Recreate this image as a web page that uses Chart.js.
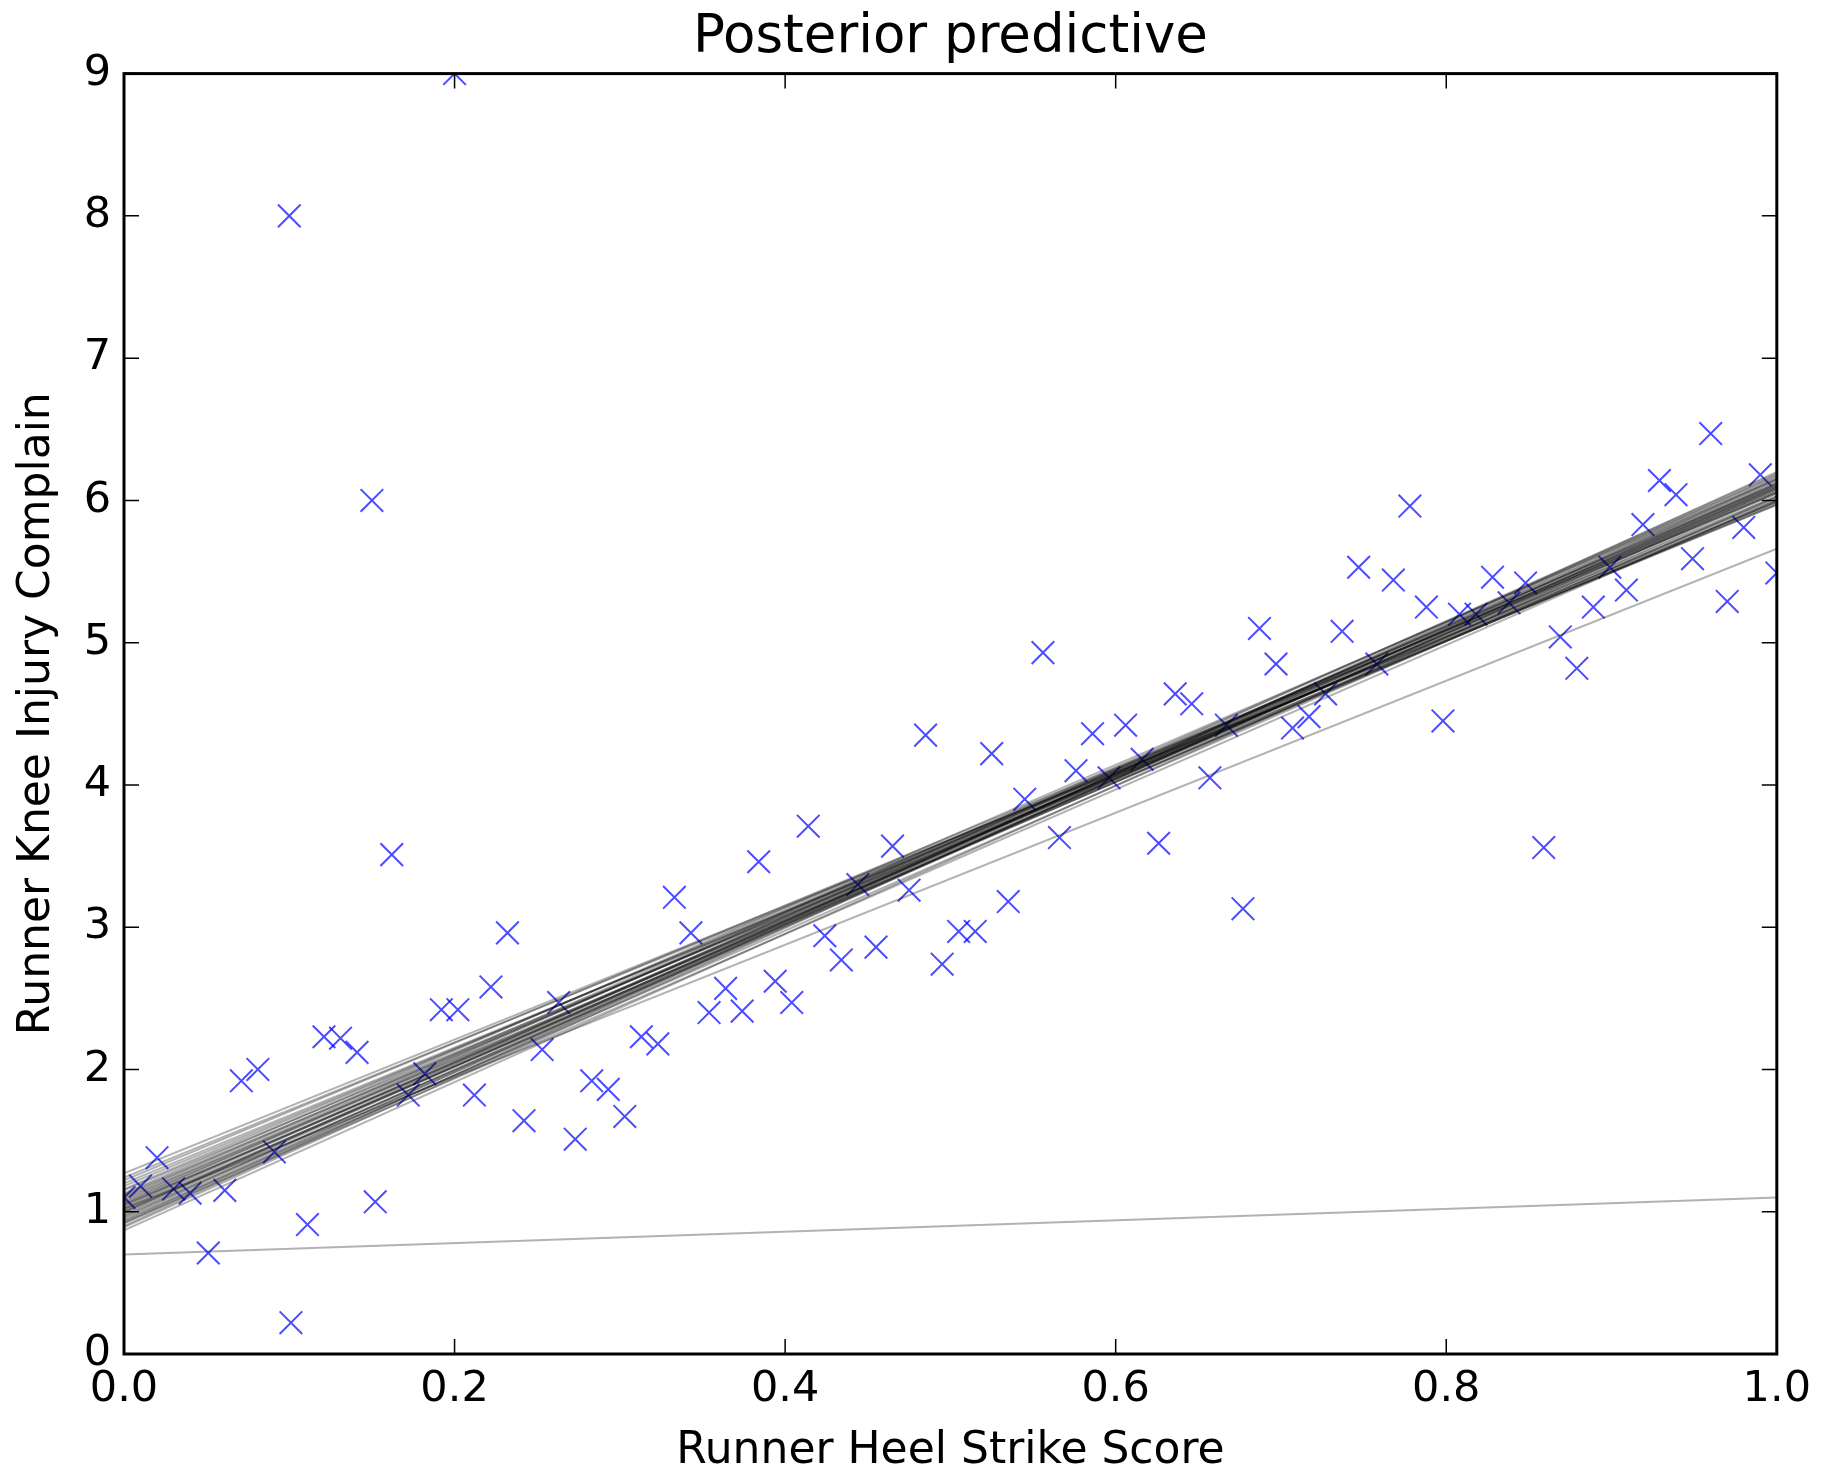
<!DOCTYPE html>
<html>
<head>
<meta charset="utf-8">
<script src="https://cdn.jsdelivr.net/npm/chart.js@4.4.1/dist/chart.umd.min.js"></script>
<style>
  body { margin: 0; background: #fff; }
  #wrap { width: 1821px; height: 1482px; }
</style>
</head>
<body>
<div id="wrap"><canvas id="myChart" width="1821" height="1482"></canvas></div>
<script>
// observed runners
const heelScore = [
    0.000, 0.010, 0.020, 0.030, 0.040, 0.051, 0.061, 0.071, 0.081, 0.091,
    0.101, 0.111, 0.121, 0.131, 0.141, 0.152, 0.162, 0.172, 0.182, 0.192,
    0.202, 0.212, 0.222, 0.232, 0.242, 0.253, 0.263, 0.273, 0.283, 0.293,
    0.303, 0.313, 0.323, 0.333, 0.343, 0.354, 0.364, 0.374, 0.384, 0.394,
    0.404, 0.414, 0.424, 0.434, 0.444, 0.455, 0.465, 0.475, 0.485, 0.495,
    0.505, 0.515, 0.525, 0.535, 0.545, 0.556, 0.566, 0.576, 0.586, 0.596,
    0.606, 0.616, 0.626, 0.636, 0.646, 0.657, 0.667, 0.677, 0.687, 0.697,
    0.707, 0.717, 0.727, 0.737, 0.747, 0.758, 0.768, 0.778, 0.788, 0.798,
    0.808, 0.818, 0.828, 0.838, 0.848, 0.859, 0.869, 0.879, 0.889, 0.899,
    0.909, 0.919, 0.929, 0.939, 0.949, 0.960, 0.970, 0.980, 0.990, 1.000,
    0.100, 0.150, 0.200
];
const kneeComplain = [
    1.10, 1.18, 1.38, 1.16, 1.13, 0.71, 1.15, 1.92, 2.00, 1.42,
    0.22, 0.91, 2.23, 2.22, 2.12, 1.07, 3.51, 1.82, 1.97, 2.42,
    2.42, 1.82, 2.58, 2.96, 1.64, 2.14, 2.47, 1.51, 1.92, 1.86,
    1.67, 2.23, 2.18, 3.21, 2.96, 2.40, 2.57, 2.41, 3.46, 2.62,
    2.47, 3.71, 2.94, 2.77, 3.30, 2.86, 3.57, 3.26, 4.35, 2.74,
    2.97, 2.97, 4.22, 3.18, 3.90, 4.93, 3.63, 4.10, 4.36, 4.05,
    4.42, 4.18, 3.59, 4.64, 4.57, 4.05, 4.42, 3.13, 5.10, 4.85,
    4.40, 4.48, 4.64, 5.08, 5.53, 4.85, 5.44, 5.96, 5.25, 4.45,
    5.20, 5.20, 5.46, 5.28, 5.42, 3.56, 5.04, 4.82, 5.25, 5.53,
    5.37, 5.83, 6.14, 6.04, 5.59, 6.47, 5.29, 5.81, 6.18, 5.49,
    8.00, 6.00, 9.00
];

// posterior sample lines: value at x=0 and at x=1
const lineStart = [
    0.87, 0.89, 0.90, 0.92, 0.93, 0.95, 0.96, 0.98, 0.99, 1.00,
    1.01, 1.02, 1.03, 1.04, 1.05, 1.06, 1.07, 1.08, 1.09, 1.10,
    1.12, 1.13, 1.15, 1.16, 1.18, 1.20, 1.22, 1.24, 1.27, 0.94,
    1.00, 1.05, 0.97, 1.11, 0.92, 1.02, 0.70
];
const lineEnd = [
    6.08, 6.15, 6.20, 6.12, 6.18, 6.10, 6.16, 6.05, 6.13, 6.19,
    6.08, 6.02, 6.14, 6.10, 6.00, 6.17, 6.06, 6.12, 5.99, 6.09,
    6.03, 6.15, 5.98, 6.07, 6.01, 5.97, 6.05, 5.99, 5.97, 6.03,
    6.11, 6.06, 6.09, 6.11, 6.00, 5.66, 1.10
];

const xTicks = [0, 0.2, 0.4, 0.6, 0.8, 1.0];
const yTicks = [0, 1, 2, 3, 4, 5, 6, 7, 8, 9];

const font = 'DejaVu Sans';

const points = heelScore.map((x, i) => ({ x: x, y: kneeComplain[i] }));

const datasets = lineStart.map((a, i) => ({
    data: [{ x: 0, y: a }, { x: 1, y: lineEnd[i] }],
    showLine: true,
    borderColor: 'rgba(0, 0, 0, 0.3)',
    borderWidth: 2,
    pointRadius: 0,
    clip: 0,
    order: 0
}));

datasets.push({
    data: points,
    showLine: false,
    pointStyle: 'crossRot',
    pointRadius: 16,
    pointBorderWidth: 2,
    pointBorderColor: 'rgba(0, 0, 255, 0.7)',
    pointBackgroundColor: 'rgba(0, 0, 0, 0)',
    clip: 0,
    order: 1
});

// matplotlib-like frame with inward ticks on all four sides
const framePlugin = {
    id: 'frame',
    afterDatasetsDraw(chart) {
        const { ctx, chartArea: a, scales } = chart;
        const len = 15;
        ctx.save();
        ctx.strokeStyle = '#000';
        ctx.lineWidth = 1.5;
        ctx.beginPath();
        xTicks.forEach(v => {
            const px = scales.x.getPixelForValue(v);
            ctx.moveTo(px, a.bottom); ctx.lineTo(px, a.bottom - len);
            ctx.moveTo(px, a.top); ctx.lineTo(px, a.top + len);
        });
        yTicks.forEach(v => {
            const py = scales.y.getPixelForValue(v);
            ctx.moveTo(a.left, py); ctx.lineTo(a.left + len, py);
            ctx.moveTo(a.right, py); ctx.lineTo(a.right - len, py);
        });
        ctx.stroke();
        ctx.lineWidth = 3;
        ctx.strokeRect(a.left, a.top, a.right - a.left, a.bottom - a.top);
        ctx.restore();
    }
};

const ctx = document.getElementById('myChart').getContext('2d');
const myChart = new Chart(ctx, {
    type: 'scatter',
    data: { datasets: datasets },
    plugins: [framePlugin],
    options: {
        responsive: false,
        animation: false,
        events: [],
        layout: {
            padding: { left: 0, right: 43, top: 0, bottom: 0 }
        },
        plugins: {
            legend: { display: false },
            tooltip: { enabled: false },
            title: {
                display: true,
                fullSize: false,
                text: 'Posterior predictive',
                color: '#000',
                font: { family: font, size: 53, weight: 'normal' },
                padding: { top: 6, bottom: 4 }
            }
        },
        scales: {
            x: {
                type: 'linear',
                min: 0,
                max: 1,
                afterBuildTicks: scale => { scale.ticks = xTicks.map(v => ({ value: v })); },
                afterFit: scale => { scale.height = 128; },
                grid: { display: false, drawTicks: false },
                border: { display: false },
                ticks: {
                    color: '#000',
                    padding: 10,
                    maxRotation: 0,
                    font: { family: font, size: 43 },
                    callback: v => Number(v).toFixed(1)
                },
                title: {
                    display: true,
                    text: 'Runner Heel Strike Score',
                    color: '#000',
                    font: { family: font, size: 44 },
                    padding: { top: 0, bottom: 4 }
                }
            },
            y: {
                type: 'linear',
                min: 0,
                max: 9,
                afterBuildTicks: scale => { scale.ticks = yTicks.map(v => ({ value: v })); },
                afterFit: scale => { scale.width = 124; },
                grid: { display: false, drawTicks: false },
                border: { display: false },
                ticks: {
                    color: '#000',
                    padding: 13,
                    font: { family: font, size: 43 },
                    callback: v => String(v)
                },
                title: {
                    display: true,
                    text: 'Runner Knee Injury Complain',
                    color: '#000',
                    font: { family: font, size: 44 },
                    padding: { top: 11, bottom: 0 }
                }
            }
        }
    }
});
</script>
</body>
</html>
